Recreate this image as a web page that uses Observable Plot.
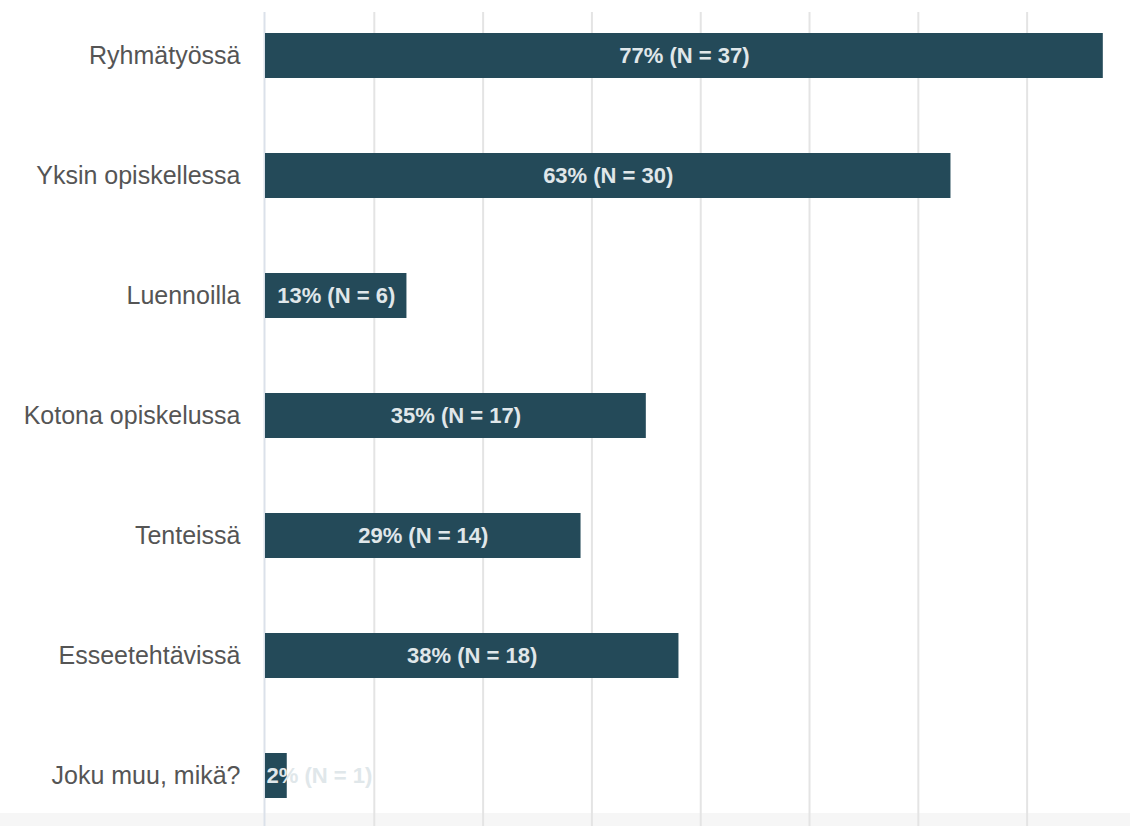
<!DOCTYPE html>
<html>
<head>
<meta charset="utf-8">
<script src="https://cdn.jsdelivr.net/npm/d3@7"></script>
<script src="https://cdn.jsdelivr.net/npm/@observablehq/plot@0.6"></script>
<style>
  html, body { margin: 0; padding: 0; background: #fff; }
  #chart svg { display: block; }
</style>
</head>
<body>
<div id="chart"></div>
<script>
const categories = ["Ryhmätyössä", "Yksin opiskellessa", "Luennoilla", "Kotona opiskelussa", "Tenteissä", "Esseetehtävissä", "Joku muu, mikä?"];
const percents = [77, 63, 13, 35, 29, 38, 2];
const counts = [37, 30, 6, 17, 14, 18, 1];
const gridTicks = [10, 20, 30, 40, 50, 60, 70];

const data = categories.map((c, i) => ({cat: c, pct: percents[i], n: counts[i]}));
const label = d => `${d.pct}% (N = ${d.n})`;
const labelFill = "#e0e7ea";

const chart = Plot.plot({
  width: 1130,
  height: 826,
  marginLeft: 265,
  marginRight: 0,
  marginTop: 12,
  marginBottom: 0,
  style: {
    fontFamily: "'Liberation Sans', Arial, Helvetica, sans-serif",
    background: "linear-gradient(to bottom, #ffffff 0px, #ffffff 813px, #f6f6f6 813px, #f6f6f6 826px)"
  },
  x: {domain: [0, 79.5], axis: null},
  y: {domain: categories, range: [12, 820], paddingInner: 0.622, paddingOuter: 0.166, axis: null},
  marks: [
    Plot.gridX({ticks: gridTicks, stroke: "#e4e4e4", strokeOpacity: 1, strokeWidth: 2}),
    Plot.ruleX([0], {stroke: "#dbe1ea", strokeWidth: 2, dx: -1}),
    Plot.barX(data, {x: "pct", y: "cat", fill: "#244a59"}),
    Plot.text(data.filter(d => d.pct >= 10), {
      x: d => d.pct / 2, y: "cat", text: label,
      fill: labelFill, fontSize: 22, fontWeight: "bold"
    }),
    Plot.text(data.filter(d => d.pct < 10), {
      x: 0, y: "cat", text: label, textAnchor: "start", dx: 1,
      fill: labelFill, fontSize: 22, fontWeight: "bold"
    }),
    Plot.axisY({tickSize: 0, tickPadding: 25, fontSize: 25, color: "#555555", label: null})
  ]
});
document.getElementById("chart").appendChild(chart);
</script>
</body>
</html>
